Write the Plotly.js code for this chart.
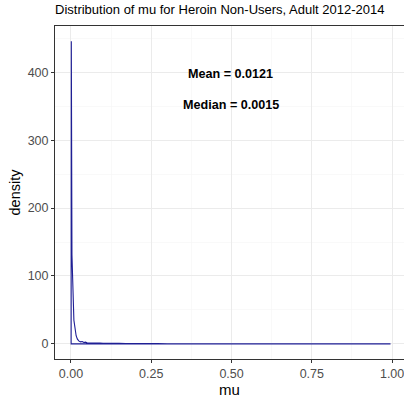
<!DOCTYPE html>
<html>
<head>
<meta charset="utf-8">
<script src="https://cdn.plot.ly/plotly-3.0.1.min.js"></script>
<style>html,body{margin:0;padding:0;background:#fff;}#chart{width:404px;height:400px;}</style>
</head>
<body>
<div id="chart"></div>
<script>
// density outline (mu values and density)
const muValues = [0.995, 0.0005, 0.001, 0.002, 0.003, 0.009, 0.012, 0.016, 0.02, 0.025, 0.03, 0.035, 0.04, 0.045, 0.05, 0.06, 0.07, 0.08, 0.09, 0.1, 0.11, 0.12, 0.13, 0.15, 0.17, 0.19, 0.25, 0.27, 0.3, 0.995];
const densityValues = [0, 0, 446, 369, 131, 35, 22, 12, 7, 4, 3, 3.5, 2, 2.5, 1.5, 1.5, 2, 1, 1.2, 0.8, 1, 0.6, 0.8, 0.8, 0.5, 0.3, 0.6, 0.6, 0, 0];
const statLabels = ["Mean = 0.0121", "Median = 0.0015"];
const statX = [0.497, 0.497];
const statY = [398, 352];
const xTicks = [0, 0.25, 0.5, 0.75, 1.0];
const xTickText = ["0.00", "0.25", "0.50", "0.75", "1.00"];
const yTicks = [0, 100, 200, 300, 400];

const font = "Liberation Sans, Arial, sans-serif";
const data = [{
  x: muValues, y: densityValues, type: "scatter", mode: "lines",
  line: {color: "#1f1f95", width: 1.1}, hoverinfo: "skip"
}];
const annotations = statLabels.map((t, i) => ({
  x: statX[i], y: statY[i], xref: "x", yref: "y", text: "<b>" + t + "</b>",
  showarrow: false, font: {family: font, size: 12.6, color: "#000"}
}));
const layout = {
  width: 404, height: 400,
  margin: {l: 55, r: 0, t: 26, b: 41},
  paper_bgcolor: "#fff", plot_bgcolor: "#fff",
  showlegend: false,
  title: {text: "Distribution of mu for Heroin Non-Users, Adult 2012-2014",
    x: 55/404, xanchor: "left", y: 0.988, yanchor: "top",
    font: {family: font, size: 13, color: "#000"}},
  xaxis: {
    range: [-0.0498, 1.037], tickvals: xTicks, ticktext: xTickText,
    showgrid: true, gridcolor: "#ebebeb", gridwidth: 1,
    minor: {dtick: 0.125, tick0: 0, showgrid: true, gridcolor: "#f5f5f5", gridwidth: 0.6, ticks: ""},
    zeroline: false, showline: true, linecolor: "#333333", linewidth: 1, mirror: true,
    ticks: "outside", ticklen: 3, tickcolor: "#333333", ticklabelstandoff: 0,
    ticklabeloverflow: "allow",
    tickfont: {family: font, size: 12.5, color: "#4d4d4d"},
    title: {text: "mu", font: {family: font, size: 15, color: "#000"}, standoff: 3}
  },
  yaxis: {
    range: [-22.3, 468.3], tickvals: yTicks,
    showgrid: true, gridcolor: "#ebebeb", gridwidth: 1,
    minor: {dtick: 50, tick0: 0, showgrid: true, gridcolor: "#f5f5f5", gridwidth: 0.6, ticks: ""},
    zeroline: false, showline: true, linecolor: "#333333", linewidth: 1, mirror: false,
    ticks: "outside", ticklen: 3, tickcolor: "#333333",
    tickfont: {family: font, size: 12.5, color: "#4d4d4d"},
    title: {text: "density", font: {family: font, size: 14.5, color: "#000"}, standoff: 3}
  },
  annotations: annotations
};
Plotly.newPlot("chart", data, layout, {displayModeBar: false, staticPlot: true});
</script>
</body>
</html>
